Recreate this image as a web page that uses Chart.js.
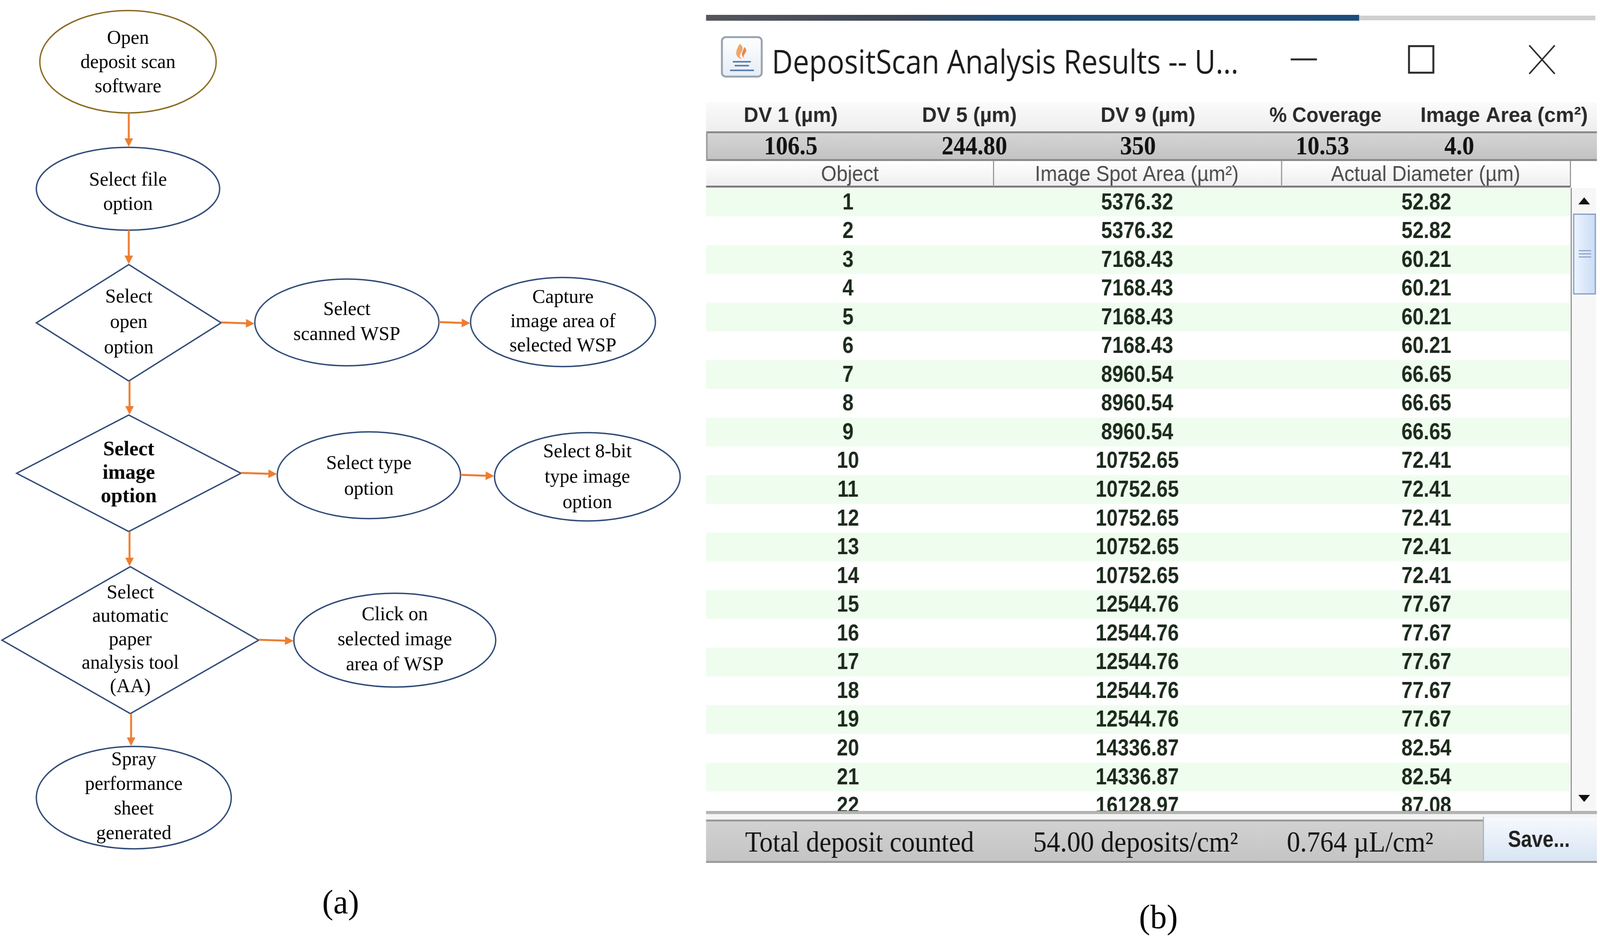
<!DOCTYPE html>
<html><head><meta charset="utf-8">
<script src="https://cdn.jsdelivr.net/npm/chart.js@4.4.1/dist/chart.umd.min.js"></script>
<style>html,body{margin:0;padding:0;background:#fff;overflow:hidden;width:100vw;height:100vh}canvas{display:block}</style>
</head><body><canvas id="c" width="4138" height="2395" style="width:100vw;height:100vh"></canvas>
<script>
// ---------------- DATA ----------------
const stepLabels = [
  ["Open","deposit scan","software"],
  ["Select file","option"],
  ["Select","open","option"],
  ["Select","scanned WSP"],
  ["Capture","image area of","selected WSP"],
  ["Select","image","option"],
  ["Select type","option"],
  ["Select 8-bit","type image","option"],
  ["Select","automatic","paper","analysis tool","(AA)"],
  ["Click on","selected image","area of WSP"],
  ["Spray","performance","sheet","generated"]
];
const stepLinks = [[0,1],[1,2],[2,3],[3,4],[2,5],[5,6],[6,7],[5,8],[8,9],[8,10]];
const panelCaptions = ["(a)","(b)"];
const windowTitle = "DepositScan Analysis Results -- U...";
const summaryLabels = ["DV 1 (µm)","DV 5 (µm)","DV 9 (µm)","% Coverage","Image Area (cm²)"];
const summaryValues = ["106.5","244.80","350","10.53","4.0"];
const columnLabels = ["Object","Image Spot Area (µm²)","Actual Diameter (µm)"];
const objects = [1,2,3,4,5,6,7,8,9,10,11,12,13,14,15,16,17,18,19,20,21,22];
const spotAreas = [5376.32,5376.32,7168.43,7168.43,7168.43,7168.43,8960.54,8960.54,8960.54,10752.65,10752.65,10752.65,10752.65,10752.65,12544.76,12544.76,12544.76,12544.76,12544.76,14336.87,14336.87,16128.97];
const diameters = [52.82,52.82,60.21,60.21,60.21,60.21,66.65,66.65,66.65,72.41,72.41,72.41,72.41,72.41,77.67,77.67,77.67,77.67,77.67,82.54,82.54,87.08];
const footerTexts = ["Total deposit counted","54.00 deposits/cm²","0.764 µL/cm²"];
const saveLabel = "Save...";

// ---------------- LAYOUT (positions / sizes / styles) ----------------
const W = 4138, H = 2395;
const stepGeom = [
  {s:'e',cx:331,cy:158,a:228,b:131,st:'#8a6b22',dy:3},
  {s:'e',cx:331,cy:483,a:237,b:106,dy:10},
  {s:'d',cx:333,cy:826,a:239,b:149,sp:65},
  {s:'e',cx:897,cy:825,a:238,b:111,sp:64},
  {s:'e',cx:1456,cy:824,a:239,b:114},
  {s:'d',cx:333,cy:1211,a:290,b:149,bold:true,sp:60},
  {s:'e',cx:954,cy:1216,a:237,b:111,sp:66,dy:4},
  {s:'e',cx:1519,cy:1220,a:240,b:113,sp:65,dy:2},
  {s:'d',cx:337,cy:1638,a:332,b:188,sp:60},
  {s:'e',cx:1021,cy:1638,a:261,b:120,sp:64},
  {s:'e',cx:346,cy:2041,a:252,b:131,sp:63,dy:-2}
];
const ROW1 = 517, PITCH = 73.55;          // table row placement
const COL0 = 2193, COLSTEP = 748;         // table column placement

// ---------------- CHART ----------------
const stepPoints = stepGeom.map(g => ({x:g.cx, y:g.cy}));
const cellDatasets = [objects, spotAreas, diameters].map((arr, ci) => ({
  label: columnLabels[ci],
  xAxisID: 'tc', yAxisID: 'tr',
  data: arr.map((v, i) => ({x: ci, y: objects[i], v: v})),
  pointRadius: 0
}));

function txt(ctx, s, x, y, font, color, align, sx, base) {
  ctx.save();
  ctx.font = font; ctx.fillStyle = color; ctx.textAlign = align || 'center';
  ctx.textBaseline = base || 'middle';
  ctx.translate(x, y); ctx.scale(sx || 1, 1); ctx.fillText(s, 0, 0);
  ctx.restore();
}
function txtFit(ctx, s, x, y, font, color, align, w, base) {
  ctx.save(); ctx.font = font; const m = ctx.measureText(s).width; ctx.restore();
  txt(ctx, s, x, y, font, color, align, w / m, base);
}
function arrow(ctx, x1, y1, x2, y2) {
  const L = 22, hw = 11;
  const ang = Math.atan2(y2 - y1, x2 - x1);
  const bx = x2 - L * Math.cos(ang), by = y2 - L * Math.sin(ang);
  ctx.save();
  ctx.strokeStyle = '#ED7D31'; ctx.fillStyle = '#ED7D31'; ctx.lineWidth = 5;
  ctx.beginPath(); ctx.moveTo(x1, y1); ctx.lineTo(bx, by); ctx.stroke();
  ctx.beginPath(); ctx.moveTo(x2, y2);
  ctx.lineTo(bx + hw * Math.sin(ang), by - hw * Math.cos(ang));
  ctx.lineTo(bx - hw * Math.sin(ang), by + hw * Math.cos(ang));
  ctx.closePath(); ctx.fill();
  ctx.restore();
}

const drawPlugin = {
  id: 'drawAll',
  afterDatasetsDraw(chart) {
    const ctx = chart.ctx;
    const sx = chart.scales.x, sy = chart.scales.y, tr = chart.scales.tr;
    const P = (x, y) => [sx.getPixelForValue(x), sy.getPixelForValue(y)];
    ctx.save();
    ctx.fillStyle = '#fff'; ctx.fillRect(0, 0, W, H);

    // ===== FLOWCHART =====
    const meta = chart.getDatasetMeta(0);
    stepGeom.forEach((g, i) => {
      const el = meta.data[i];
      const cx = el.x, cy = el.y;
      const a = sx.getPixelForValue(g.a) - sx.getPixelForValue(0);
      const b = sy.getPixelForValue(g.b) - sy.getPixelForValue(0);
      ctx.save();
      ctx.strokeStyle = g.st || '#2f4a78'; ctx.lineWidth = 3.5;
      ctx.beginPath();
      if (g.s === 'e') ctx.ellipse(cx, cy, a, b, 0, 0, Math.PI * 2);
      else { ctx.moveTo(cx, cy - b); ctx.lineTo(cx + a, cy); ctx.lineTo(cx, cy + b); ctx.lineTo(cx - a, cy); ctx.closePath(); }
      ctx.stroke();
      ctx.restore();
      const lines = stepLabels[i];
      const sp = g.sp || 62;
      const y0 = cy + (g.dy || 0) - sp * (lines.length - 1) / 2;
      lines.forEach((ln, k) => {
        txt(ctx, ln, cx, y0 + k * sp, (g.bold ? 'bold 53px' : '50px') + ' "Liberation Serif"', '#000', 'center');
      });
    });
    stepLinks.forEach(([f, t]) => {
      const A = stepGeom[f], B = stepGeom[t];
      if (Math.abs(A.cx - B.cx) < 60) {
        const [x1, y1] = P(A.cx + 2, A.cy + A.b);
        const [x2, y2] = P(A.cx + 2, B.cy - B.b);
        arrow(ctx, x1, y1, x2, y2 - 1);
      } else {
        const [x1, y1] = P(A.cx + A.a, A.cy);
        const [x2, y2] = P(B.cx - B.a, A.cy + 2);
        arrow(ctx, x1, y1 - 1, x2 - 1, y2);
      }
    });
    {
      const [ax, ay] = P(881, 2314); txt(ctx, panelCaptions[0], ax, ay, '86px "Liberation Serif"', '#000', 'center');
      const [bx, by] = P(2996, 2352); txt(ctx, panelCaptions[1], bx, by, '86px "Liberation Serif"', '#000', 'center');
    }

    // ===== WINDOW =====
    const L0 = 1826, R0 = 4130;
    // top strip
    let g = ctx.createLinearGradient(L0, 0, 3515, 0);
    g.addColorStop(0, '#55575c'); g.addColorStop(0.3, '#3f4656'); g.addColorStop(0.45, '#1f4a74'); g.addColorStop(1, '#1e4d7b');
    ctx.fillStyle = g; ctx.fillRect(L0, 38, 3515 - L0, 15);
    ctx.fillStyle = '#cfcfcf'; ctx.fillRect(3515, 40, 4126 - 3515, 12);

    // icon
    ctx.save();
    ctx.lineWidth = 5; ctx.strokeStyle = '#98a4b2';
    g = ctx.createLinearGradient(0, 93, 0, 198); g.addColorStop(0, '#ffffff'); g.addColorStop(1, '#e6edf5');
    ctx.fillStyle = g;
    ctx.beginPath(); ctx.roundRect(1867, 95, 103, 101, 10); ctx.fill(); ctx.stroke();
    ctx.fillStyle = '#f0a565';
    ctx.beginPath(); ctx.moveTo(1913, 112); ctx.bezierCurveTo(1935, 128, 1900, 140, 1920, 152); ctx.bezierCurveTo(1895, 145, 1905, 126, 1913, 112); ctx.fill();
    ctx.fillStyle = '#e8894a';
    ctx.beginPath(); ctx.moveTo(1925, 120); ctx.bezierCurveTo(1940, 134, 1915, 140, 1926, 150); ctx.bezierCurveTo(1912, 140, 1922, 132, 1925, 120); ctx.fill();
    ctx.strokeStyle = '#5a7fb5'; ctx.lineWidth = 4;
    ctx.beginPath(); ctx.moveTo(1895, 158); ctx.lineTo(1942, 158); ctx.stroke();
    ctx.beginPath(); ctx.moveTo(1900, 168); ctx.lineTo(1937, 168); ctx.stroke();
    ctx.beginPath(); ctx.moveTo(1888, 180); ctx.lineTo(1950, 180); ctx.stroke();
    ctx.restore();

    txtFit(ctx, windowTitle, 1996, 188, '84px "Open Sans"', '#1c1c1c', 'left', 1207, 'alphabetic');
    // window buttons
    ctx.save();
    ctx.strokeStyle = '#2a2a2a'; ctx.lineWidth = 5;
    ctx.beginPath(); ctx.moveTo(3338, 152); ctx.lineTo(3406, 152); ctx.stroke();
    ctx.strokeRect(3644, 118, 63, 68);
    ctx.lineWidth = 4;
    ctx.beginPath(); ctx.moveTo(3955, 116); ctx.lineTo(4021, 189); ctx.moveTo(4021, 116); ctx.lineTo(3955, 189); ctx.stroke();
    ctx.restore();

    // summary header
    g = ctx.createLinearGradient(0, 260, 0, 337); g.addColorStop(0, '#fbfbfb'); g.addColorStop(1, '#eeeeee');
    ctx.fillStyle = g; ctx.fillRect(L0, 262, R0 - L0, 75);
    const sumCx = [2045, 2507, 2969, 3428, 3890];
    const sumW = [243, 245, 245, 290, 433];
    summaryLabels.forEach((s, i) => txtFit(ctx, s, sumCx[i], 297, 'bold 54px "Liberation Sans"', '#2a2a2a', 'center', sumW[i]));
    // summary values band
    g = ctx.createLinearGradient(0, 337, 0, 411); g.addColorStop(0, '#d6d6d6'); g.addColorStop(1, '#c2c2c2');
    ctx.fillStyle = g; ctx.fillRect(L0, 337, R0 - L0, 74);
    ctx.fillStyle = '#8a8a8a'; ctx.fillRect(L0, 336, R0 - L0, 5); ctx.fillRect(L0, 407, R0 - L0, 5);
    ctx.fillStyle = '#9a9a9a'; ctx.fillRect(L0, 336, 4, 76);
    const valCx = [2045, 2520, 2943, 3420, 3774];
    summaryValues.forEach((s, i) => txt(ctx, s, valCx[i], 378, 'bold 67px "Liberation Serif"', '#111', 'center', 0.92));

    // column header
    g = ctx.createLinearGradient(0, 412, 0, 478); g.addColorStop(0, '#ffffff'); g.addColorStop(1, '#eeeeee');
    ctx.fillStyle = g; ctx.fillRect(L0, 412, 4062 - L0, 66);
    ctx.fillStyle = '#7c7c7c'; ctx.fillRect(L0, 475, 4062 - L0, 5);
    ctx.fillStyle = '#9a9a9a';
    [2568, 3313, 4060].forEach(x => ctx.fillRect(x, 412, 3, 66));
    const hdrCx = [2198, 2940, 3687];
    columnLabels.forEach((s, i) => txt(ctx, s, hdrCx[i], 448, '55px "Liberation Sans"', '#4d4d4d', 'center', 0.94));

    // body rows (positions via chart scales)
    const bodyTop = 481, bodyBot = 2075;
    ctx.save();
    ctx.beginPath(); ctx.rect(L0, bodyTop, 4062 - L0, bodyBot - bodyTop); ctx.clip();
    objects.forEach((o) => {
      if (o % 2 === 1) {
        const t = tr.getPixelForValue(o - 0.5), b = tr.getPixelForValue(o + 0.5);
        ctx.fillStyle = '#effdef'; ctx.fillRect(L0, t, 4060 - L0, b - t);
      }
    });
    for (let d = 1; d <= 3; d++) {
      const m = chart.getDatasetMeta(d);
      m.data.forEach((el, i) => {
        const raw = cellDatasets[d - 1].data[i].v;
        const s = d === 1 ? String(raw) : raw.toFixed(2);
        txt(ctx, s, el.x, el.y + 2, 'bold 60px "Liberation Sans"', '#1c2b1c', 'center', 0.86);
      });
    }
    ctx.restore();

    // scrollbar
    ctx.fillStyle = '#f7f7f7'; ctx.fillRect(4064, 481, 64, bodyBot - 481);
    ctx.fillStyle = '#8f8f8f'; ctx.fillRect(4062, 481, 3, bodyBot - 481);
    ctx.fillStyle = '#111';
    ctx.beginPath(); ctx.moveTo(4097, 505); ctx.lineTo(4112, 523); ctx.lineTo(4082, 523); ctx.closePath(); ctx.fill();
    ctx.beginPath(); ctx.moveTo(4097, 2052); ctx.lineTo(4112, 2034); ctx.lineTo(4082, 2034); ctx.closePath(); ctx.fill();
    g = ctx.createLinearGradient(4070, 0, 4126, 0); g.addColorStop(0, '#eef5fe'); g.addColorStop(1, '#c9dcf5');
    ctx.fillStyle = g; ctx.fillRect(4070, 548, 56, 204);
    ctx.strokeStyle = '#7f9bc4'; ctx.lineWidth = 3; ctx.strokeRect(4070, 548, 56, 204);
    ctx.fillStyle = '#8ea6cc';
    [640, 648, 656].forEach(y => ctx.fillRect(4083, y, 32, 3));

    // footer
    ctx.fillStyle = '#b3b3b3'; ctx.fillRect(L0, 2075, R0 - L0, 8);
    ctx.fillStyle = '#f4f4f4'; ctx.fillRect(L0, 2083, R0 - L0, 15);
    g = ctx.createLinearGradient(0, 2098, 0, 2207); g.addColorStop(0, '#d2d2d2'); g.addColorStop(1, '#c4c4c4');
    ctx.fillStyle = g; ctx.fillRect(L0, 2098, 3837 - L0, 109);
    ctx.fillStyle = '#9a9a9a'; ctx.fillRect(L0, 2097, 3837 - L0, 5); ctx.fillRect(L0, 2203, R0 - L0, 5);
    g = ctx.createLinearGradient(0, 2092, 0, 2203); g.addColorStop(0, '#f6f9fe'); g.addColorStop(1, '#d9e5f4');
    ctx.fillStyle = g; ctx.fillRect(3837, 2092, R0 - 3837, 111);
    ctx.fillStyle = '#a8b4c4'; ctx.fillRect(3835, 2090, 3, 115);
    const footX = [1927, 2672, 3328], footW = [592, 530, 379];
    footerTexts.forEach((s, i) => txtFit(ctx, s, footX[i], 2160, '74px "Liberation Serif"', '#141414', 'left', footW[i]));
    txtFit(ctx, saveLabel, 3900, 2150, 'bold 60px "Liberation Sans"', '#222', 'left', 160);

    ctx.restore();
  }
};

new Chart(document.getElementById('c'), {
  type: 'scatter',
  data: {
    datasets: [
      {label: 'steps', data: stepPoints, xAxisID: 'x', yAxisID: 'y', pointRadius: 0},
      ...cellDatasets
    ]
  },
  options: {
    responsive: false, animation: false, devicePixelRatio: 1, events: [],
    layout: {padding: 0},
    plugins: {legend: {display: false}, tooltip: {enabled: false}},
    scales: {
      x: {type: 'linear', min: 0, max: W, display: false},
      y: {type: 'linear', min: 0, max: H, reverse: true, display: false},
      tc: {type: 'linear', axis: 'x', min: -COL0 / COLSTEP, max: (W - COL0) / COLSTEP, display: false},
      tr: {type: 'linear', axis: 'y', min: 1 - ROW1 / PITCH, max: 1 - ROW1 / PITCH + H / PITCH, reverse: true, display: false}
    }
  },
  plugins: [drawPlugin]
});
</script></body></html>
